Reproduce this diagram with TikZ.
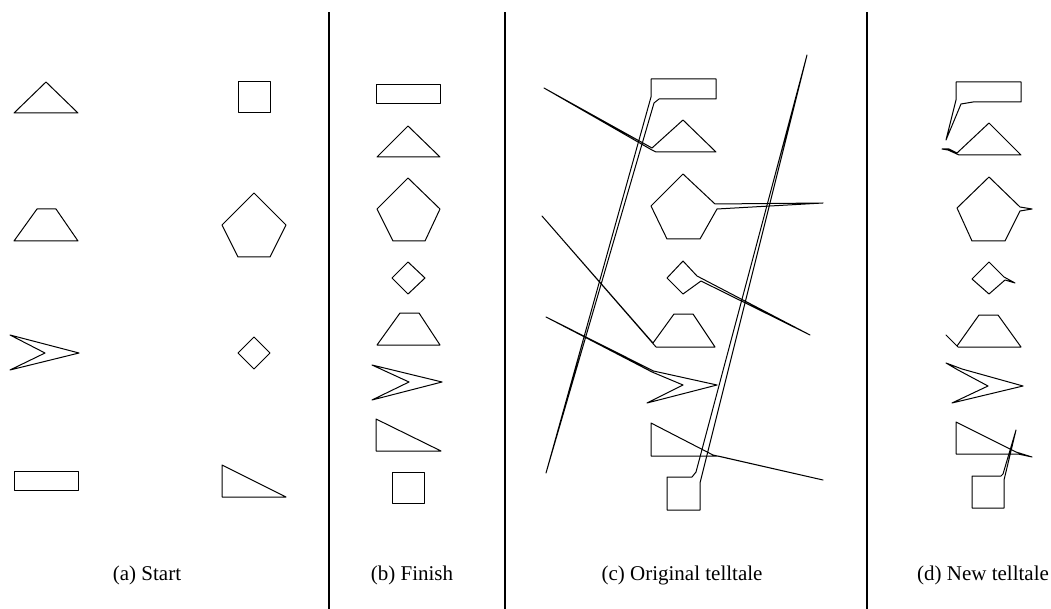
\documentclass[tikz,border=0pt]{standalone}
\usepackage{fontspec}
\setmainfont{Liberation Serif}
\begin{document}
\begin{tikzpicture}[x=1pt,y=-1pt,
  shp/.style={draw=black, line width=1pt, line join=round},
  divider/.style={draw=black, line width=2pt},
  captext/.style={font=\fontsize{21}{24}\selectfont, anchor=base, inner sep=0pt}]
\useasboundingbox[fill=white] (0,0) rectangle (1051,609);
% dividers
\coordinate (d1t) at (329,12.5); \coordinate (d1b) at (329,609);
\coordinate (d2t) at (505,12.5); \coordinate (d2b) at (505,609);
\coordinate (d3t) at (867,12.5); \coordinate (d3b) at (867,609);
\draw[divider] (d1t) -- (d1b);
\draw[divider] (d2t) -- (d2b);
\draw[divider] (d3t) -- (d3b);

% ---------- (a) Start ----------
\draw[shp] (14,113) -- (46,82) -- (78,113) -- cycle;
\draw[shp] (238,82) rectangle (270,113);
\draw[shp] (37,209) -- (56,209) -- (78,241) -- (14,241) -- cycle;
\draw[shp] (254,193) -- (286,225) -- (270,257) -- (238,257) -- (222,225) -- cycle;
\draw[shp] (10,335) -- (79,353) -- (10,370) -- (45,353) -- cycle;
\draw[shp] (254,337) -- (270,353) -- (254,369) -- (238,353) -- cycle;
\draw[shp] (14,471) rectangle (78,490);
\draw[shp] (222,465) -- (222,497) -- (286,497) -- cycle;

% ---------- (b) Finish ----------
\draw[shp] (376,85) rectangle (440,104);
\draw[shp] (377,157) -- (408,126) -- (440,157) -- cycle;
\draw[shp] (408,178) -- (440,209) -- (425,241) -- (393,241) -- (377,209) -- cycle;
\draw[shp] (408,262) -- (425,278) -- (408,294) -- (392,278) -- cycle;
\draw[shp] (400,313) -- (419,313) -- (440,345) -- (377,345) -- cycle;
\draw[shp] (372,365) -- (442,382) -- (372,400) -- (409,382) -- cycle;
\draw[shp] (376,419) -- (376,451) -- (441,451) -- cycle;
\draw[shp] (392,472) rectangle (424,503);

% ---------- (c) Original telltale ----------
\draw[shp] (651,79) -- (716,79) -- (716,99) -- (659,99) -- (654,103) -- (546,473) -- (651,97) -- cycle;
\draw[shp] (683,120) -- (716,152) -- (656,152) -- (651,149.5) -- (544,88) -- (652,148) -- cycle;
\draw[shp] (683,174) -- (651,206) -- (667,239) -- (700,239) -- (717,209) -- (823,203) -- (715,204) -- cycle;
\draw[shp] (683,261) -- (667,278) -- (683,294) -- (701,281) -- (810,335) -- (697,276) -- cycle;
\draw[shp] (674,314) -- (693,314) -- (715,347) -- (656,347) -- (542,216) -- (653,343) -- cycle;
\draw[shp] (717,385) -- (647,403) -- (683,385) -- (652,372) -- (546,317) -- (653.5,371) -- cycle;
\draw[shp] (651,423) -- (651,456) -- (718,456) -- (823,480) -- (713,455) -- cycle;
\draw[shp] (667,477) -- (667,510) -- (700,510) -- (700,483) -- (807,55) -- (696,472) -- (692,477) -- cycle;

% ---------- (d) New telltale ----------
\draw[shp] (956,82) -- (1021,82) -- (1021,102) -- (973,102) -- (961,104) -- (946,140) -- (956,100) -- cycle;
\draw[shp] (989,123) -- (1021,155) -- (959,155) -- (948,150) -- (942,149) -- (949,149) -- (957,153) -- cycle;
\draw[shp] (989,177) -- (957,208) -- (972,241) -- (1005,241) -- (1020,211) -- (1032,209) -- (1020,207) -- cycle;
\draw[shp] (989,262) -- (972,279) -- (989,294) -- (1005,280) -- (1015,283) -- (1004,277) -- cycle;
\draw[shp] (979,315) -- (998,315) -- (1021,347) -- (958,347) -- (946,335) -- (957,346) -- cycle;
\draw[shp] (1023,386) -- (952,403) -- (988,386) -- (958,370) -- (946,363) -- (962,369) -- cycle;
\draw[shp] (956,422) -- (956,454) -- (1018,454) -- (1032,457) -- (1016,452) -- cycle;
\draw[shp] (972,476) -- (972,508) -- (1004,508) -- (1004,480) -- (1016,430) -- (1003,474) -- (1001,476) -- cycle;

% captions
\node[captext] (capa) at (147,580.5) {(a) Start};
\node[captext] (capb) at (412,580.5) {(b) Finish};
\node[captext] (capc) at (682,580.5) {(c) Original telltale};
\node[captext] (capd) at (983,580.5) {(d) New telltale};
\end{tikzpicture}
\end{document}
